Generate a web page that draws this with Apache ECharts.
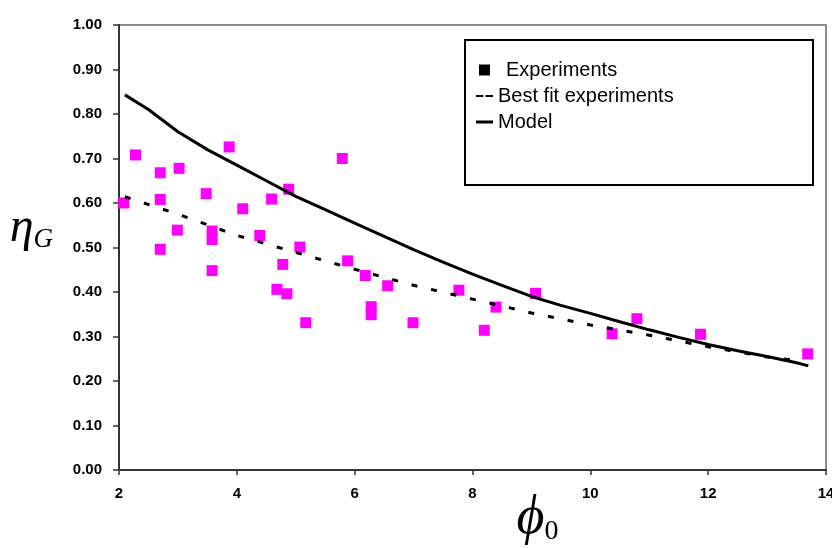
<!DOCTYPE html>
<html>
<head>
<meta charset="utf-8">
<script src="https://cdn.jsdelivr.net/npm/echarts@6/dist/echarts.min.js"></script>
<style>
html,body{margin:0;padding:0;background:#fff;}
#chart{width:832px;height:548px;}
</style>
</head>
<body>
<div id="chart"></div>
<script>
// Experimental points (phi0, etaG)
const expX = [2.08, 2.28, 2.70, 2.70, 2.70, 3.02, 2.99, 3.48, 3.58, 3.58, 3.58, 3.87, 4.10, 4.39, 4.59, 4.88, 4.78, 5.07, 5.79, 5.88, 6.18, 4.68, 4.85, 5.17, 6.28, 6.28, 6.56, 6.99, 7.77, 8.20, 8.40, 9.07, 10.37, 10.79, 11.87, 13.69];
const expY = [0.600, 0.708, 0.668, 0.608, 0.496, 0.678, 0.539, 0.621, 0.537, 0.518, 0.448, 0.726, 0.587, 0.527, 0.609, 0.631, 0.462, 0.501, 0.700, 0.470, 0.437, 0.406, 0.396, 0.331, 0.367, 0.349, 0.414, 0.331, 0.404, 0.314, 0.366, 0.397, 0.306, 0.340, 0.305, 0.261];

// Best fit of experiments (dashed)
const fitX = [2.1, 3, 4, 5, 6, 7, 8, 9, 10, 11, 12, 13, 13.6];
const fitY = [0.614, 0.575, 0.527, 0.489, 0.451, 0.415, 0.384, 0.353, 0.326, 0.303, 0.277, 0.254, 0.244];

// Model (solid)
const modX = [2.1, 2.5, 3, 3.5, 4, 4.5, 5, 5.5, 6, 6.5, 7, 7.5, 8, 8.5, 9, 9.5, 10, 10.5, 11, 11.5, 12, 12.5, 13, 13.5, 13.7];
const modY = [0.843, 0.81, 0.76, 0.72, 0.685, 0.65, 0.615, 0.585, 0.555, 0.525, 0.495, 0.467, 0.44, 0.415, 0.39, 0.37, 0.352, 0.333, 0.315, 0.298, 0.282, 0.268, 0.255, 0.241, 0.234];

const seriesNames = ['Experiments', 'Best fit experiments', 'Model'];
const xTicks = [2, 4, 6, 8, 10, 12, 14];
const yTicks = [0, 0.1, 0.2, 0.3, 0.4, 0.5, 0.6, 0.7, 0.8, 0.9, 1.0];

const zip = (xs, ys) => xs.map((x, i) => [x, ys[i]]);

const chart = echarts.init(document.getElementById('chart'), null, {renderer: 'canvas'});
const labelFont = {fontFamily: 'Liberation Sans, Arial, sans-serif', fontWeight: 'bold', fontSize: 15, color: '#000'};

chart.setOption({
  animation: false,
  backgroundColor: '#fff',
  grid: {left: 119, right: 6, top: 25, bottom: 78, show: true, borderColor: '#8c8c8c', borderWidth: 2, backgroundColor: 'transparent', containLabel: false, outerBoundsMode: 'none'},
  xAxis: {
    type: 'value', min: xTicks[0], max: xTicks[xTicks.length - 1], interval: 2,
    axisLine: {lineStyle: {color: '#333', width: 2}},
    axisTick: {show: true, length: 5, lineStyle: {color: '#333', width: 1.5}},
    axisLabel: Object.assign({margin: 16, formatter: v => String(v)}, labelFont),
    splitLine: {show: false},
    name: '{f|ϕ}{z|0}', nameLocation: 'middle', nameGap: 22, nameMoveOverlap: false,
    nameTextStyle: {
      padding: [0, 0, 0, 130],
      rich: {
        f: {fontFamily: 'Liberation Serif, DejaVu Serif, serif', fontStyle: 'italic', fontSize: 54, color: '#000'},
        z: {fontFamily: 'Liberation Serif, DejaVu Serif, serif', fontSize: 28, color: '#000', verticalAlign: 'bottom', padding: [24, 0, 0, 0]}
      }
    }
  },
  yAxis: {
    type: 'value', min: yTicks[0], max: yTicks[yTicks.length - 1], interval: 0.1,
    axisLine: {show: true, lineStyle: {color: '#333', width: 2}},
    axisTick: {show: true, length: 6, lineStyle: {color: '#333', width: 1.5}},
    axisLabel: Object.assign({margin: 17, formatter: v => v.toFixed(2)}, labelFont),
    splitLine: {show: false},
    name: '{e|η}{g|G}', nameLocation: 'middle', nameRotate: 0, nameGap: 66, nameMoveOverlap: false,
    nameTextStyle: {
      padding: [0, 0, 38, 0],
      rich: {
        e: {fontFamily: 'Liberation Serif, DejaVu Serif, serif', fontStyle: 'italic', fontSize: 48, color: '#000'},
        g: {fontFamily: 'Liberation Serif, DejaVu Serif, serif', fontStyle: 'italic', fontSize: 27, color: '#000', padding: [22, 0, 0, 0]}
      }
    }
  },
  legend: {
    orient: 'vertical', left: 471, top: 55, itemWidth: 17, itemHeight: 11, itemGap: 6,
    symbolKeepAspect: true,
    textStyle: {fontFamily: 'Liberation Sans, Arial, sans-serif', fontSize: 20, color: '#000', rich: {p: {width: 8}}},
    formatter: name => name === seriesNames[0] ? '{p|}' + name : name,
    data: [
      {name: seriesNames[0], icon: 'path://M0,0h11v11h-11z', itemStyle: {color: '#000', opacity: 1}},
      {name: seriesNames[1], icon: 'path://M0,0h7v2h-7z M9,0h7v2h-7z', itemStyle: {color: '#000'}},
      {name: seriesNames[2], icon: 'path://M0,0h17v3h-17z', itemStyle: {color: '#000'}}
    ]
  },
  graphic: [
    {type: 'rect', left: 464, top: 39, shape: {width: 348, height: 145}, style: {fill: 'transparent', stroke: '#000', lineWidth: 2}, z: 100}
  ],
  series: [
    {
      name: seriesNames[0], type: 'scatter', symbol: 'rect', symbolSize: 11,
      itemStyle: {color: '#ff00ff', opacity: 1},
      data: zip(expX, expY), z: 2
    },
    {
      name: seriesNames[1], type: 'line', symbol: 'none', smooth: false,
      lineStyle: {color: '#000', width: 3, type: [6, 14]},
      itemStyle: {color: '#000'},
      data: zip(fitX, fitY), z: 3
    },
    {
      name: seriesNames[2], type: 'line', symbol: 'none', smooth: false,
      lineStyle: {color: '#000', width: 3},
      itemStyle: {color: '#000'},
      data: zip(modX, modY), z: 4
    }
  ]
});
</script>
</body>
</html>
